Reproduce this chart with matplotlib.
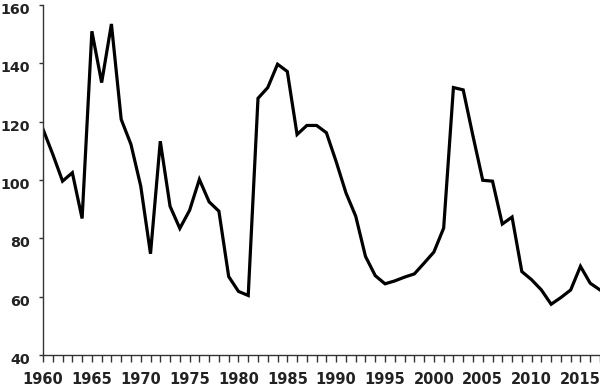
import matplotlib
matplotlib.use('Agg')
import matplotlib.pyplot as plt
import matplotlib.transforms as mtransforms
import numpy as np

years = np.arange(1960, 2018)
values = [
    117.4, 108.8, 99.6, 102.5, 86.8, 151.0, 133.4, 153.5, 120.8, 112.2,
    97.9, 74.7, 113.3, 91.0, 83.4, 89.6, 100.2, 92.5, 89.3, 66.9,
    61.8, 60.4, 128.0, 131.7, 139.7, 137.2, 115.6, 118.7, 118.7, 116.2,
    106.3, 95.6, 87.6, 73.8, 67.2, 64.4, 65.4, 66.7, 67.8, 71.5,
    75.3, 83.5, 131.7, 130.9, 115.1, 99.9, 99.6, 84.9, 87.3, 68.6,
    65.8, 62.3, 57.4, 59.7, 62.3, 70.4, 64.6, 62.3,
]
yticks = [40, 60, 80, 100, 120, 140, 160]
xlabel_years = [1960, 1965, 1970, 1975, 1980, 1985, 1990, 1995, 2000, 2005, 2010, 2015]

plt.rcParams['font.family'] = ['DejaVu Sans']
fig = plt.figure(figsize=(6, 3.88), dpi=100)
ax = fig.add_axes([0.0717, 0.0851, 0.9283, 0.902])

ax.plot(years, values, color='black', linewidth=2.3, solid_joinstyle='miter')

ax.set_xlim(1960, 2017)
ax.set_ylim(40, 160)
ax.set_yticks(yticks)
ax.set_xticks(years, minor=True)
ax.set_xticks(xlabel_years)
ax.tick_params(axis='both', which='both', direction='out', width=1, color='#333333')
ax.tick_params(axis='x', which='both', length=5, pad=7.5)
ax.tick_params(axis='y', length=3, pad=6.5)
ax.tick_params(axis='x', labelsize=10.5)
ax.tick_params(axis='y', labelsize=10.3)

# y labels sit a few pixels below their ticks in the reference
shift = mtransforms.ScaledTranslation(0, -3.5 / 100, fig.dpi_scale_trans)
for lab in ax.get_yticklabels():
    lab.set_transform(lab.get_transform() + shift)
for lab in ax.get_xticklabels() + ax.get_yticklabels():
    lab.set_fontweight('bold')
    lab.set_color('#222222')

for s in ['top', 'right']:
    ax.spines[s].set_visible(False)
for s in ['left', 'bottom']:
    ax.spines[s].set_color('#333333')
    ax.spines[s].set_linewidth(1)

plt.savefig('out.png', dpi=100)
plt.close()
